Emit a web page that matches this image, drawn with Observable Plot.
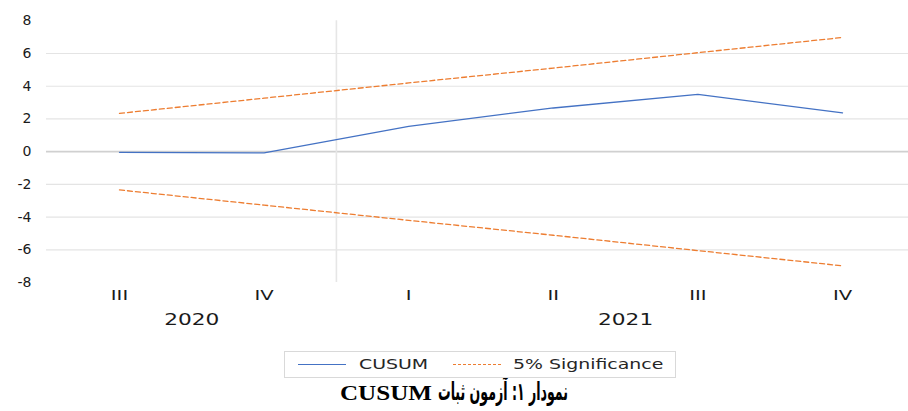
<!DOCTYPE html>
<html>
<head>
<meta charset="utf-8">
<script src="https://cdn.jsdelivr.net/npm/d3@7"></script>
<script src="https://cdn.jsdelivr.net/npm/@observablehq/plot@0.6"></script>
<style>
  html, body { margin: 0; padding: 0; background: #fff; }
  #wrap { position: relative; width: 908px; height: 411px; overflow: hidden; font-family: "DejaVu Sans", sans-serif; color: #222; }
  #chart { position: absolute; left: 0; top: 0; }
  #legend { position: absolute; left: 284px; top: 351px; width: 390px; height: 25px; border: 1px solid #d9d9d9; box-sizing: content-box; }
  .sw { position: absolute; top: 12px; width: 48px; height: 0; }
  .lt { position: absolute; top: 4px; font-size: 14px; line-height: 16px; white-space: nowrap; transform: scaleX(1.35); transform-origin: left center; color: #262626; }
  #title { position: absolute; left: 0; top: 378px; }
</style>
</head>
<body>
<div id="wrap">
  <div id="chart"></div>
  <div id="legend"></div>
  <svg id="title" width="908" height="33"></svg>
</div>
<script>
// ---- data ----
const quarters = ["III", "IV", "I", "II", "III", "IV"];
const years = ["2020", "2020", "2021", "2021", "2021", "2021"];
const cusum = [-0.04, -0.08, 1.55, 2.67, 3.5, 2.37];
const upper = [2.34, 3.27, 4.2, 5.11, 6.05, 6.98];
const lower = [-2.34, -3.27, -4.2, -5.11, -6.05, -6.98];
const yTicks = [-8, -6, -4, -2, 0, 2, 4, 6, 8];
const seriesNames = ["CUSUM", "5% Significance"];
const titleFa = "نمودار ۱: آزمون ثبات";
const titleEn = "CUSUM";

// ---- derived tables ----
const idx = d3.range(quarters.length);
const cusumRows = idx.map(i => ({i, v: cusum[i]}));
const boundRows = idx.map(i => ({i, v: upper[i], z: "upper"}))
  .concat(idx.map(i => ({i, v: lower[i], z: "lower"})));
const yearNames = Array.from(new Set(years));
const yearRows = yearNames.map(y => {
  const ii = idx.filter(i => years[i] === y);
  return {year: y, mid: d3.mean(ii)};
});
const separators = idx.filter(i => i > 0 && years[i] !== years[i - 1]).map(i => i - 0.5);
const yMin = d3.min(yTicks), yMax = d3.max(yTicks);

const blue = "#4472C4", orange = "#ED7D31";

const plot = Plot.plot({
  width: 908,
  height: 340,
  marginLeft: 46,
  marginRight: 0,
  marginTop: 20,
  marginBottom: 58,
  style: {fontFamily: "DejaVu Sans, sans-serif", fontSize: "14px", color: "#1a1a1a", background: "#fff"},
  x: {type: "linear", domain: [0, quarters.length - 1], range: [119, 842], label: null},
  y: {domain: [yMin, yMax], range: [282, 20.3], label: null},
  marks: [
    Plot.gridY(yTicks.filter(t => t !== 0 && t !== yMin && t !== yMax), {stroke: "#e4e4e4", strokeOpacity: 1, strokeWidth: 1.2}),
    Plot.ruleY([0], {stroke: "#d0d0d0", strokeWidth: 1.6}),
    Plot.ruleX(separators, {y1: yMax, y2: yMin, stroke: "#e6e6e6", strokeWidth: 1.6}),
    Plot.line(boundRows, {x: "i", y: "v", z: "z", stroke: orange, strokeWidth: 1.3, strokeDasharray: "5,3"}),
    Plot.line(cusumRows, {x: "i", y: "v", stroke: blue, strokeWidth: 1.3}),
    Plot.axisY({ticks: yTicks, tickSize: 0, tickPadding: 15, tickFormat: d => String(d), fontSize: 14, label: null}),
    Plot.axisX({ticks: idx, tickSize: 0, tickPadding: 8, tickFormat: i => quarters[i], fontSize: 14, label: null}),
    Plot.text(yearRows, {x: "mid", text: "year", frameAnchor: "bottom", dy: 42, fontSize: 15.5, fill: "#1a1a1a"})
  ]
});
document.getElementById("chart").appendChild(plot);

// widen the category labels to match the reference's stretched lettering
function stretch(sel, k) {
  plot.querySelectorAll(sel).forEach(t => {
    const tr = t.getAttribute("transform");
    if (tr && tr.includes("translate")) t.setAttribute("transform", tr + ` scale(${k},1)`);
  });
}
stretch('g[aria-label="x-axis tick label"] text', 1.4);
stretch('g[aria-label="text"] text', 1.4);

// ---- legend ----
const legend = document.getElementById("legend");
legend.innerHTML = `
  <div class="sw" style="left:13px;border-top:1.3px solid ${blue}"></div>
  <div class="lt" style="left:74px">${seriesNames[0]}</div>
  <div class="sw" style="left:168px;border-top:1.3px dashed ${orange}"></div>
  <div class="lt" style="left:228px">${seriesNames[1]}</div>`;

// ---- title (two runs: Latin in a serif, Persian in DejaVu Sans) ----
const ns = "http://www.w3.org/2000/svg";
const tsvg = document.getElementById("title");
const tEn = document.createElementNS(ns, "text");
tEn.setAttribute("x", 340); tEn.setAttribute("y", 22);
tEn.setAttribute("textLength", 92); tEn.setAttribute("lengthAdjust", "spacingAndGlyphs");
tEn.setAttribute("style", "font-family:'Liberation Serif',serif;font-weight:bold;font-size:20px;fill:#000");
tEn.textContent = titleEn;
const tFa = document.createElementNS(ns, "text");
tFa.setAttribute("x", 438); tFa.setAttribute("y", 22);
tFa.setAttribute("textLength", 130); tFa.setAttribute("lengthAdjust", "spacingAndGlyphs");
tFa.setAttribute("style", "font-family:'DejaVu Sans',sans-serif;font-weight:bold;font-size:25px;fill:#000");
tFa.textContent = titleFa;
tsvg.appendChild(tEn); tsvg.appendChild(tFa);
</script>
</body>
</html>
